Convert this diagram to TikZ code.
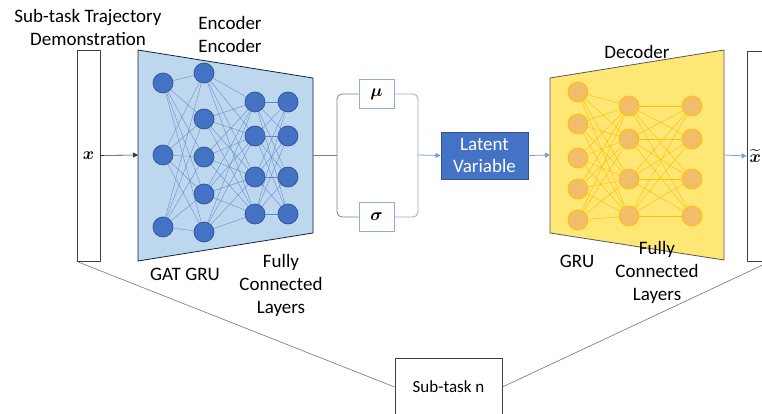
\documentclass[tikz,border=0pt]{standalone}
\usepackage{fontspec}
\setmainfont{Carlito}
\usepackage{amsmath,amssymb,bm}
\usepackage{xcolor}
\usetikzlibrary{arrows.meta, positioning, calc}

\definecolor{encfill}{HTML}{BDD7EE}
\definecolor{officeblue}{HTML}{4472C4}
\definecolor{darkblue}{HTML}{2F528F}
\definecolor{lightline}{HTML}{8FAADC}
\definecolor{decfill}{HTML}{FFE775}
\definecolor{decnode}{HTML}{F2BD6B}
\definecolor{gold}{HTML}{FFC000}

\begin{document}
\begin{tikzpicture}[
  x=1pt, y=-1pt,
  >={Triangle[length=5pt, width=5pt]},
  txt/.style={font=\fontsize{19}{23}\selectfont, align=center, inner sep=0pt},
  mathlbl/.style={font=\fontsize{18}{22}\selectfont},
  bar/.style={draw=black!75, line width=0.8pt, fill=white, mathlbl,
    minimum width=23pt, inner sep=0pt},
  encnode/.style={circle, fill=officeblue, draw=darkblue, line width=0.7pt,
    minimum size=20pt, inner sep=0pt},
  decnode/.style={circle, fill=decnode, draw=gold, line width=0.8pt,
    minimum size=20pt, inner sep=0pt},
  encedge/.style={officeblue!85, line width=0.35pt},
  decedge/.style={gold, line width=0.45pt},
  statbox/.style={draw=lightline, line width=0.8pt, fill=white, mathlbl,
    minimum width=35pt, minimum height=29pt, inner sep=0pt},
  grayline/.style={draw=black!50, line width=0.8pt},
  blueline/.style={draw=lightline, line width=0.8pt},
]

\clip (0,0) rectangle (762,414);
\fill[white] (0,0) rectangle (762,414);

%%% Input and output bars
\node[bar, minimum height=211pt] (xin) at (88.5,155.5) {$\bm{x}$};
\node[bar, minimum height=210pt, text width=18pt, align=left]
  (xout) at (758.5,156) {$\widetilde{\bm{x}}$};

\node[txt] (demo) at (88,27) {Sub-task Trajectory\\Demonstration};

%%% Encoder trapezoid
\draw[fill=encfill, draw=black!60!darkblue, line width=0.8pt]
  (138,50) -- (313,78) -- (313,233) -- (138,261) -- cycle;
\coordinate (encW) at (138,155);
\coordinate (encE) at (313,155);

%%% Encoder neurons
\foreach \y [count=\i] in {83,155,227}
  \node[encnode] (ea\i) at (163,\y) {};
\foreach \y [count=\i] in {73,119,157,194,232}
  \node[encnode] (eb\i) at (204,\y) {};
\foreach \y [count=\i] in {102,136,177,214} {
  \node[encnode] (ec\i) at (255,\y) {};
  \node[encnode] (ed\i) at (288,\y) {};
}
\foreach \i in {1,...,3}
  \foreach \j in {1,...,5}
    \draw[encedge] (ea\i) -- (eb\j);
\foreach \i in {1,...,5}
  \foreach \j in {1,...,4}
    \draw[encedge] (eb\i) -- (ec\j);
\foreach \i in {1,...,4}
  \foreach \j in {1,...,4}
    \draw[encedge] (ec\i) -- (ed\j);

\node[txt] (enclbl) at (230,34) {Encoder\\Encoder};
\node[txt] (gatgru) at (185,274) {GAT GRU};
\node[txt] (encfc) at (281,285) {Fully\\Connected\\Layers};

\draw[->, black!80, line width=0.6pt] (xin.east) -- (encW);

%%% Mean and variance
\node[statbox] (mu) at (376.5,94) {$\bm{\mu}$};
\node[statbox] (sigma) at (376.5,217) {$\bm{\sigma}$};
\coordinate (split) at (337,155);
\coordinate (merge) at (418,155);

\draw[grayline] (encE) -- (split);
\draw[grayline, rounded corners=5pt] (mu.west) -| (split) |- (sigma.west);
\draw[blueline, rounded corners=5pt] (mu.east) -| (merge) |- (sigma.east);

%%% Latent variable
\node[draw=darkblue, fill=officeblue, line width=0.8pt, text=white,
  font=\fontsize{19}{22}\selectfont, align=center,
  minimum width=87pt, minimum height=47pt, inner sep=0pt]
  (latent) at (484.5,155.5) {Latent\\Variable};
\draw[blueline, ->, color=officeblue!70] (merge) -- (latent.west);

%%% Decoder trapezoid
\draw[fill=decfill, draw=black!65, line width=0.8pt]
  (550,78) -- (724,50) -- (724,260) -- (550,233) -- cycle;
\coordinate (decW) at (550,155);
\coordinate (decE) at (724,155);

%%% Decoder neurons
\foreach \y [count=\i] in {92,124,158,189,220}
  \node[decnode] (da\i) at (578,\y) {};
\foreach \y [count=\i] in {106,139,179,216} {
  \node[decnode] (db\i) at (629,\y) {};
  \node[decnode] (dc\i) at (692,\y) {};
}
\foreach \i in {1,...,5}
  \foreach \j in {1,...,4}
    \draw[decedge] (da\i) -- (db\j);
\foreach \i in {1,...,4}
  \foreach \j in {1,...,4}
    \draw[decedge] (db\i) -- (dc\j);

\node[txt] (declbl) at (637,52) {Decoder};
\node[txt] (decgru) at (577,261) {GRU};
\node[txt] (decfc) at (657,272) {Fully\\Connected\\Layers};

\draw[blueline, ->, color=officeblue!70] (latent.east) -- (decW);
\draw[blueline, ->, color=officeblue!70] (decE) -- (xout.west);

%%% Sub-task box
\node[draw=black!75, line width=0.8pt, fill=white,
  font=\fontsize{17}{20}\selectfont,
  minimum width=107pt, minimum height=58pt, inner sep=0pt]
  (subtask) at (448.5,387) {Sub-task n};
\draw[black!55, line width=0.6pt] (xin.south west) -- (subtask.west);
\draw[black!55, line width=0.6pt] (subtask.east) -- (xout.south east);

\end{tikzpicture}
\end{document}
